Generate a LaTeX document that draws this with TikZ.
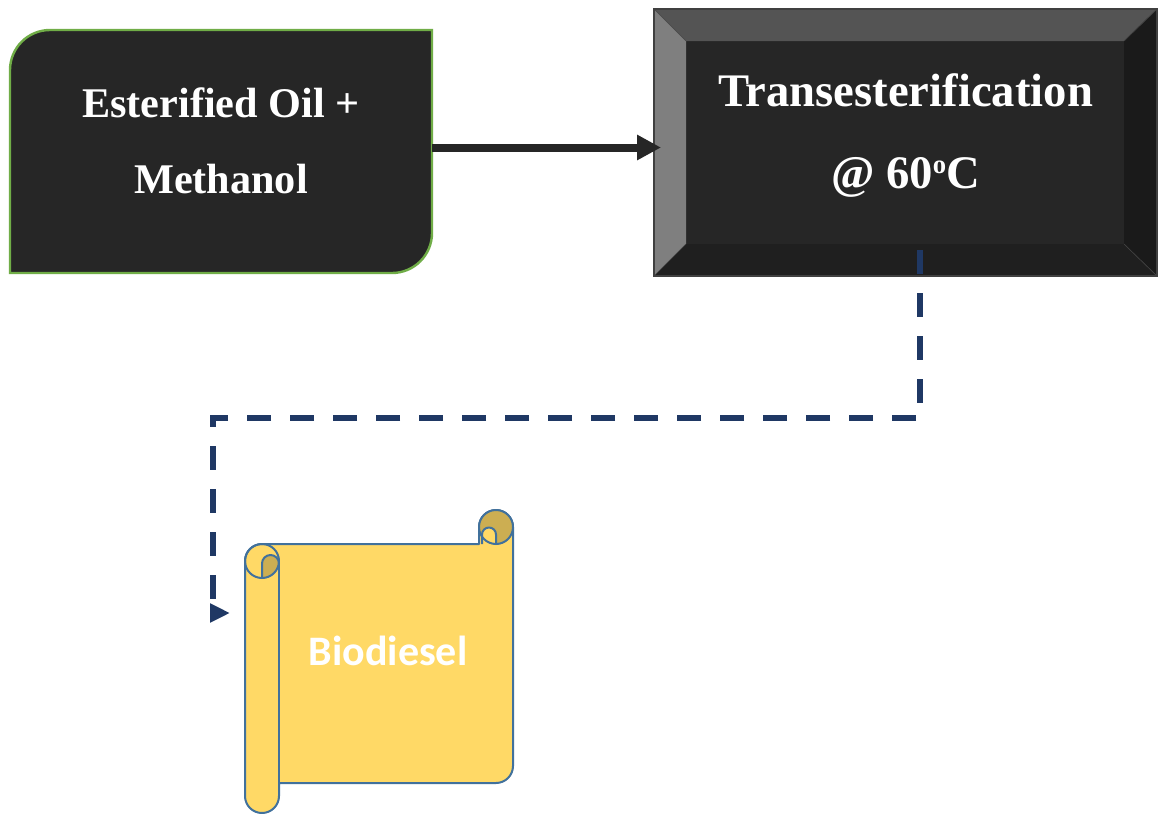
\documentclass[tikz,border=0pt]{standalone}
\usepackage{fontspec}
\setmainfont{Liberation Serif}
\newfontfamily\carlito{Carlito}
\usetikzlibrary{arrows.meta,calc}

\definecolor{panel}{HTML}{262626}
\definecolor{leafgreen}{HTML}{70AD47}
\definecolor{bevtop}{HTML}{545454}
\definecolor{bevleft}{HTML}{7F7F7F}
\definecolor{bevright}{HTML}{1A1A1A}
\definecolor{bevbottom}{HTML}{1F1F1F}
\definecolor{bevedge}{HTML}{404040}
\definecolor{navy}{HTML}{1F3864}
\definecolor{paper}{HTML}{FFD966}
\definecolor{paperdark}{HTML}{CCAE52}
\definecolor{scrolledge}{HTML}{41719C}

\begin{document}
\begin{tikzpicture}[x=0.75pt,y=-0.75pt,
  frame/.style={shape=rectangle,inner sep=0pt,outer sep=0pt},
  boxtext/.style={text=white,align=center},
  scrollline/.style={draw=scrolledge,line width=1.5pt,line join=round},
  flowsolid/.style={panel,line width=6pt,-{Triangle[length=18pt,width=18pt]}},
  flowdash/.style={navy,line width=4.5pt,dash pattern=on 18pt off 14.25pt,
    -{Triangle[length=15pt,width=13.5pt]}}]

\fill[white] (0,0) rectangle (1158,814);
\useasboundingbox (0,0) rectangle (1158,814);

% ---- feed box: two rounded corners, green rim
\node[frame,minimum width=316.5pt,minimum height=182.25pt] (oil) at (221,151.5) {};
\filldraw[fill=panel,draw=leafgreen,line width=1.8pt]
  (oil.west) [rounded corners=30pt] -- (oil.north west) -- (oil.north)
  [sharp corners] -- (oil.north east) -- (oil.east)
  [rounded corners=30pt] -- (oil.south east) -- (oil.south)
  [sharp corners] -- (oil.south west) -- cycle;
\node[boxtext,font=\bfseries\fontsize{31.7}{57}\selectfont] (oiltext) at (221,140.5)
  {Esterified Oil +\\Methanol};

% ---- reactor box with bevelled frame
\node[frame,minimum width=377.25pt,minimum height=200.25pt] (trans) at (905.5,142.5) {};
\coordinate (ti-nw) at ($(trans.north west)+(32,32)$);
\coordinate (ti-ne) at ($(trans.north east)+(-33,32)$);
\coordinate (ti-se) at ($(trans.south east)+(-33,-32)$);
\coordinate (ti-sw) at ($(trans.south west)+(32,-32)$);
\fill[panel] (ti-nw) rectangle (ti-se);
\fill[bevtop] (trans.north west) -- (trans.north east) -- (ti-ne) -- (ti-nw) -- cycle;
\fill[bevleft] (trans.north west) -- (ti-nw) -- (ti-sw) -- (trans.south west) -- cycle;
\fill[bevright] (trans.north east) -- (trans.south east) -- (ti-se) -- (ti-ne) -- cycle;
\fill[bevbottom] (trans.south west) -- (ti-sw) -- (ti-se) -- (trans.south east) -- cycle;
\draw[bevedge,line width=0.5pt] (trans.north west) -- (ti-nw) (trans.north east) -- (ti-ne)
  (trans.south east) -- (ti-se) (trans.south west) -- (ti-sw);
\draw[bevedge,line width=1.5pt] (trans.north west) rectangle (trans.south east);
\node[boxtext,font=\bfseries\fontsize{35}{61.5}\selectfont] (transtext) at (905.5,135.5)
  {Transesterification\\@ 60\raisebox{11pt}{\fontsize{20}{20}\selectfont o}C};

% ---- product scroll
\node[frame,minimum width=201pt,minimum height=227.25pt] (bio) at (379,661.5) {};
\begin{scope}[shift={(bio.north west)}]
  % sheet with left roll
  \filldraw[fill=paper,scrollline]
    (17,34) -- (234,34) -- (234,17) arc[start angle=180,end angle=360,radius=17]
    -- (268,256) arc[start angle=0,end angle=90,radius=17]
    -- (34,273) -- (34,286) arc[start angle=0,end angle=180,radius=17]
    -- (0,51) arc[start angle=180,end angle=270,radius=17] -- cycle;
  % top-right curl
  \fill[paperdark] (251,17) circle[radius=17];
  \fill[paper] (237,34) -- (237,24.5) arc[start angle=180,end angle=360,radius=7]
    -- (251,34) -- cycle;
  \draw[scrollline] (251,17) circle[radius=17];
  \draw[scrollline] (237,34) -- (237,24.5) arc[start angle=180,end angle=360,radius=7]
    -- (251,34);
  % top-left curl
  \fill[paperdark] (17,68) -- (17,53.5) arc[start angle=180,end angle=360,radius=8.5]
    -- (34,51) arc[start angle=0,end angle=90,radius=17] -- cycle;
  \draw[scrollline] (17,51) circle[radius=17];
  \draw[scrollline] (17,68) -- (17,53.5) arc[start angle=180,end angle=360,radius=8.5];
  \draw[scrollline] (34,51) -- (34,273);
  \coordinate (bioin) at (-15,103);
  \node[text=white,font=\carlito\bfseries\fontsize{31.5}{38}\selectfont,anchor=base]
    (biotext) at (143,155) {Biodiesel};
\end{scope}

% ---- connectors
\coordinate (feedout) at ([yshift=3pt]oil.east);
\coordinate (feedin) at ($(feedout -| trans.west)+(7,0)$);
\draw[flowsolid] (feedout) -- (feedin);

\coordinate (transout) at ($(trans.south)+(14.5,-26)$);
\draw[flowdash] (transout) -- ++(0,168) -| ($(bioin)+(-17,0)$) -- (bioin);
\end{tikzpicture}
\end{document}
